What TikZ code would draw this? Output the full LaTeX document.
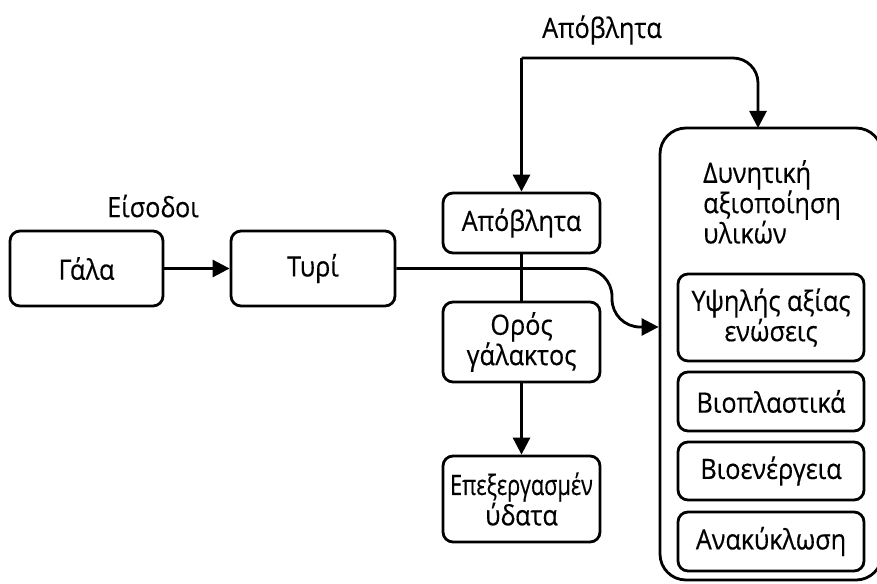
\documentclass[tikz,border=0pt]{standalone}
\usepackage{fontspec}
\setmainfont[FakeStretch=0.9,FakeBold=0.4]{Open Sans}
\usetikzlibrary{arrows.meta}
\tikzset{
  box/.style={draw, line width=2.8pt, rounded corners=10pt, align=center, inner sep=0pt},
  arr/.style={line width=2.8pt, -{Triangle[length=17pt,width=17pt]}},
  conn/.style={line width=2.8pt},
  lbl/.style={font=\fontsize{28}{29}\selectfont},
}
\begin{document}
\begin{tikzpicture}[x=1pt,y=-1pt]
\useasboundingbox (0,0) rectangle (877,583);
\begin{scope}[lbl]
% input side
\node[lbl] (inlabel) at (153,206) {Είσοδοι};
\node[box, minimum width=153pt, minimum height=75pt] (gala) at (86.5,268.5) {Γάλα};
\node[box, minimum width=164pt, minimum height=75pt] (tyri) at (313,268.5) {Τυρί};
% middle column
\node[box, minimum width=157pt, minimum height=60pt] (apo) at (521.5,223) {Απόβλητα};
\node[box, minimum width=157pt, minimum height=80pt] (oros) at (521.5,342) {Ορός\\γάλακτος};
\node[box, text width=157pt, minimum height=86pt] (epex) at (521.5,499)
  {\scalebox{0.86}[1]{Επεξεργασμέν}\\ύδατα};
% utilisation block
\node[box, rounded corners=26pt, minimum width=222pt, minimum height=452pt] (big) at (771,354) {};
\node[lbl, anchor=north west, align=left, inner sep=0pt] (bigtitle) at (703,160)
  {\fontsize{28}{31.5}\selectfont Δυνητική\\αξιοποίηση\\υλικών};
\node[box, minimum width=186pt, minimum height=87pt] (u1) at (771,317.5) {Υψηλής αξίας\\ενώσεις};
\node[box, minimum width=186pt, minimum height=59pt] (u2) at (771,401.5) {Βιοπλαστικά};
\node[box, minimum width=186pt, minimum height=58pt] (u3) at (771,471) {Βιοενέργεια};
\node[box, minimum width=186pt, minimum height=59pt] (u4) at (771,541.5) {Ανακύκλωση};
% waste label on top
\node[lbl] (toplabel) at (602,30) {Απόβλητα};
\end{scope}
% connectors
\coordinate (split) at (521.5,58);
\coordinate (bigin) at (758,128);
\coordinate (bend) at (612,268.5);
\coordinate (bendlow) at (612,327);
\draw[arr] (gala) -- (tyri);
\draw[arr] (split) -- (apo.north);
\draw[arr, rounded corners=25pt] (split) -- (split -| bigin) -- (bigin);
\draw[conn] (apo) -- (oros);
\draw[arr] (oros) -- (epex);
\draw[arr, rounded corners=28pt] (tyri.east) -- (bend) -- (bendlow) -- (bendlow -| big.west);
\end{tikzpicture}
\end{document}
